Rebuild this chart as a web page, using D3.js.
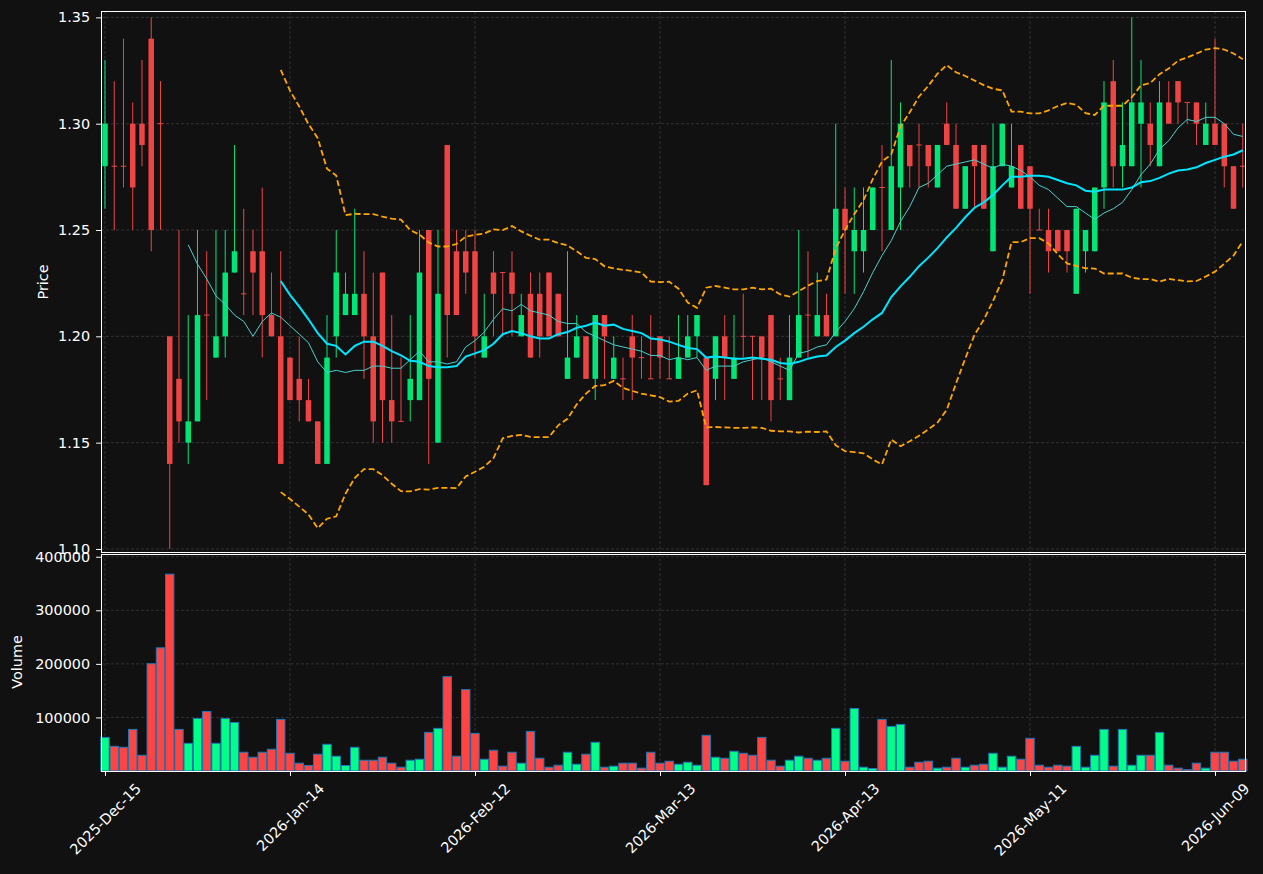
<!DOCTYPE html>
<html>
<head>
<meta charset="utf-8">
<script src="https://cdn.jsdelivr.net/npm/d3@7"></script>
<style>
  html, body { margin: 0; padding: 0; background: #111111; }
  svg { display: block; }
  text { font-family: "DejaVu Sans", sans-serif; }
</style>
</head>
<body>
<svg id="chart" width="1263" height="874"></svg>
<script>
// candle data, one value per trading bar
const opens = [
  1.28,1.28,1.28,1.30,1.30,1.34,1.30,1.20,1.18,1.15,1.16,1.21,1.19,1.20,1.23,1.22,1.24,1.24,1.21,1.20,
  1.19,1.18,1.17,1.16,1.14,1.20,1.21,1.21,1.22,1.20,1.23,1.17,1.16,1.17,1.17,1.25,1.15,1.29,1.24,1.24,
  1.24,1.19,1.23,1.23,1.23,1.20,1.22,1.22,1.23,1.22,1.18,1.19,1.20,1.18,1.21,1.18,1.18,1.20,1.19,1.18,
  1.20,1.18,1.18,1.19,1.20,1.19,1.18,1.20,1.18,1.20,1.20,1.20,1.21,1.18,1.17,1.19,1.21,1.20,1.21,1.20,
  1.26,1.24,1.24,1.25,1.27,1.25,1.27,1.29,1.29,1.29,1.27,1.30,1.29,1.26,1.29,1.29,1.24,1.28,1.27,1.29,
  1.28,1.25,1.25,1.25,1.25,1.22,1.24,1.24,1.27,1.32,1.28,1.28,1.30,1.30,1.28,1.31,1.32,1.31,1.31,1.29,
  1.30,1.30,1.28,1.28
];
const highs = [
  1.33,1.32,1.34,1.31,1.33,1.35,1.32,1.20,1.25,1.21,1.25,1.24,1.25,1.25,1.29,1.26,1.25,1.27,1.23,1.24,
  1.19,1.20,1.18,1.16,1.21,1.25,1.23,1.26,1.24,1.23,1.23,1.21,1.19,1.21,1.25,1.25,1.25,1.29,1.25,1.25,
  1.25,1.22,1.24,1.23,1.24,1.22,1.23,1.23,1.23,1.22,1.24,1.21,1.20,1.21,1.21,1.20,1.19,1.21,1.20,1.21,
  1.20,1.20,1.21,1.21,1.21,1.19,1.20,1.21,1.21,1.22,1.20,1.20,1.21,1.19,1.21,1.25,1.24,1.23,1.22,1.30,
  1.27,1.27,1.27,1.27,1.29,1.33,1.31,1.29,1.30,1.29,1.29,1.31,1.30,1.28,1.29,1.29,1.30,1.30,1.30,1.29,
  1.28,1.26,1.26,1.25,1.25,1.26,1.25,1.27,1.32,1.33,1.31,1.35,1.33,1.31,1.32,1.32,1.32,1.31,1.31,1.31,
  1.34,1.30,1.28,1.30
];
const lows = [
  1.26,1.25,1.27,1.25,1.28,1.24,1.25,1.10,1.15,1.14,1.16,1.17,1.19,1.19,1.23,1.21,1.21,1.19,1.20,1.14,
  1.17,1.16,1.16,1.14,1.14,1.19,1.21,1.21,1.18,1.15,1.15,1.15,1.16,1.16,1.17,1.14,1.15,1.19,1.21,1.22,
  1.19,1.19,1.20,1.20,1.20,1.20,1.19,1.19,1.20,1.20,1.18,1.19,1.18,1.17,1.18,1.18,1.17,1.17,1.18,1.18,
  1.18,1.18,1.18,1.19,1.19,1.13,1.17,1.17,1.18,1.19,1.17,1.17,1.16,1.17,1.17,1.19,1.19,1.20,1.20,1.20,
  1.22,1.22,1.23,1.25,1.24,1.25,1.25,1.27,1.27,1.27,1.27,1.29,1.26,1.26,1.26,1.26,1.24,1.28,1.27,1.26,
  1.22,1.25,1.23,1.24,1.23,1.22,1.23,1.24,1.26,1.27,1.27,1.28,1.27,1.28,1.28,1.30,1.30,1.30,1.29,1.29,
  1.29,1.27,1.26,1.27
];
const closes = [
  1.30,1.28,1.28,1.27,1.29,1.25,1.30,1.14,1.16,1.16,1.21,1.21,1.20,1.23,1.24,1.22,1.23,1.21,1.20,1.14,
  1.17,1.17,1.16,1.14,1.19,1.23,1.22,1.22,1.20,1.16,1.17,1.16,1.16,1.18,1.23,1.18,1.22,1.21,1.21,1.23,
  1.20,1.20,1.22,1.23,1.22,1.21,1.19,1.20,1.20,1.20,1.19,1.20,1.18,1.21,1.20,1.19,1.18,1.19,1.19,1.18,
  1.19,1.18,1.19,1.20,1.21,1.13,1.20,1.19,1.19,1.20,1.20,1.19,1.17,1.18,1.19,1.21,1.21,1.21,1.20,1.26,
  1.25,1.25,1.25,1.27,1.27,1.28,1.30,1.28,1.29,1.28,1.29,1.29,1.26,1.28,1.28,1.26,1.28,1.30,1.28,1.26,
  1.26,1.25,1.24,1.24,1.24,1.26,1.25,1.27,1.31,1.28,1.29,1.31,1.31,1.29,1.31,1.30,1.31,1.31,1.30,1.30,
  1.29,1.28,1.26,1.28
];
const volumes = [
  62800,46100,44300,77700,29400,200300,230000,367500,77700,51700,98100,111100,51700,98100,90700,35000,25700,35000,40600,96300,
  33100,14600,10200,31300,49800,27600,10200,44300,20100,20100,25700,14600,7100,20100,22000,72100,79600,176200,27600,152000,
  70300,22000,38700,9000,35000,14600,74000,23800,7100,10800,35000,12700,31300,53600,7100,9000,14600,14600,5300,35000,
  14600,18300,12700,16400,10800,66600,25700,23800,36800,33100,29400,62800,20100,9000,20100,27600,23800,20100,23800,79600,
  18300,116700,7100,4600,96300,83300,87000,7100,16400,18300,5300,7100,23800,7100,10800,12700,33100,7100,27600,22000,
  61000,10800,7100,10800,9000,46100,7100,29400,77700,9000,77700,10800,29400,29400,72100,10800,5300,2500,14600,5300,
  35000,35000,18300,22000
];

// x axis labels, placed every 20 bars
const tickIdx = [0, 20, 40, 60, 80, 100, 120];
const tickLabels = ["2025-Dec-15","2026-Jan-14","2026-Feb-12","2026-Mar-13","2026-Apr-13","2026-May-11","2026-Jun-09"];
const priceTicks = [1.10, 1.15, 1.20, 1.25, 1.30, 1.35];
const volumeTicks = [100000, 200000, 300000, 400000];

const n = closes.length;
const idx = d3.range(n);

// rolling mean / band helpers
function rolling(win, fn) {
  return idx.map(i => i < win - 1 ? null : fn(closes.slice(i - win + 1, i + 1)));
}
const ma10 = rolling(10, d3.mean);
const ma20 = rolling(20, d3.mean);
const sd20 = rolling(20, a => { const m = d3.mean(a); return Math.sqrt(d3.mean(a, v => (v - m) * (v - m))); });
const bbUp = idx.map(i => ma20[i] == null ? null : ma20[i] + 2 * sd20[i]);
const bbLo = idx.map(i => ma20[i] == null ? null : ma20[i] - 2 * sd20[i]);

const svg = d3.select("#chart");
svg.append("rect").attr("width", 1263).attr("height", 874).attr("fill", "#111111");

const L = 101, R = 1246, pTop = 11, pBot = 553, vBot = 771;
const x = d3.scaleLinear().domain([-0.43, 123.35]).range([L, R]);
const yP = d3.scaleLinear().domain([1.0981, 1.3530]).range([pBot, pTop]);
const yV = d3.scaleLinear().domain([0, 407000]).range([vBot, pBot]);

const up = "#00e676", down = "#ef4444";
const vUp = "#00ff88", vDown = "#ff4444";
const fs = "14.4px";

svg.append("defs").append("clipPath").attr("id", "clipP")
  .append("rect").attr("x", L).attr("y", pTop).attr("width", R - L).attr("height", pBot - pTop);

// grid
const grid = svg.append("g").attr("stroke", "#3a3a3a").attr("stroke-width", 0.8).attr("stroke-dasharray", "3,2");
grid.selectAll(".gp").data(priceTicks).join("line")
  .attr("x1", L).attr("x2", R).attr("y1", d => yP(d)).attr("y2", d => yP(d));
grid.selectAll(".gv").data(volumeTicks).join("line")
  .attr("x1", L).attr("x2", R).attr("y1", d => yV(d)).attr("y2", d => yV(d));
grid.selectAll(".gx1").data(tickIdx).join("line")
  .attr("x1", d => x(d)).attr("x2", d => x(d)).attr("y1", pTop).attr("y2", pBot);
grid.selectAll(".gx2").data(tickIdx).join("line")
  .attr("x1", d => x(d)).attr("x2", d => x(d)).attr("y1", pBot).attr("y2", vBot);

// candles
const candles = svg.append("g");
candles.selectAll("line").data(idx).join("line")
  .attr("x1", i => x(i)).attr("x2", i => x(i))
  .attr("y1", i => yP(highs[i])).attr("y2", i => yP(lows[i]))
  .attr("stroke", i => closes[i] > opens[i] ? up : down).attr("stroke-width", 1);
candles.selectAll("rect").data(idx).join("rect")
  .attr("x", i => x(i) - 2.75).attr("width", 5.5)
  .attr("y", i => Math.min(yP(opens[i]), yP(closes[i])) - (opens[i] === closes[i] ? 0.5 : 0))
  .attr("height", i => Math.max(1, Math.abs(yP(opens[i]) - yP(closes[i]))))
  .attr("fill", i => closes[i] > opens[i] ? up : down);

// indicator lines
const line = arr => d3.line().defined(i => arr[i] != null).x(i => x(i)).y(i => yP(arr[i]))(idx);
const lines = svg.append("g").attr("clip-path", "url(#clipP)").attr("fill", "none");
lines.append("path").attr("d", line(bbUp)).attr("stroke", "#ffa500").attr("stroke-width", 1.8).attr("stroke-dasharray", "6,3");
lines.append("path").attr("d", line(bbLo)).attr("stroke", "#ffa500").attr("stroke-width", 1.8).attr("stroke-dasharray", "6,3");
lines.append("path").attr("d", line(ma10)).attr("stroke", "#48d1cc").attr("stroke-width", 1);
lines.append("path").attr("d", line(ma20)).attr("stroke", "#00e5ff").attr("stroke-width", 2);

// volume
svg.append("g").selectAll("rect").data(idx).join("rect")
  .attr("x", i => x(i) - 4.2).attr("width", 8.4)
  .attr("y", i => yV(volumes[i])).attr("height", i => yV(0) - yV(volumes[i]))
  .attr("fill", i => closes[i] > opens[i] ? vUp : vDown)
  .attr("stroke", "#1f77b4").attr("stroke-width", 1);

// spines
const spines = svg.append("g").attr("fill", "none").attr("stroke", "#ffffff").attr("stroke-width", 1)
  .attr("shape-rendering", "crispEdges");
spines.append("rect").attr("x", L + 0.5).attr("y", pTop + 0.5).attr("width", R - L - 1).attr("height", pBot - pTop - 1);
spines.append("rect").attr("x", L + 0.5).attr("y", pBot + 1.5).attr("width", R - L - 1).attr("height", vBot - pBot - 1.5);

// axes
function styleAxis(g) {
  g.select(".domain").remove();
  g.selectAll(".tick line").attr("stroke", "#ffffff");
  g.selectAll(".tick text").attr("fill", "#ffffff").style("font-size", fs).style("font-family", "DejaVu Sans");
}
svg.append("g").attr("transform", `translate(${L},0)`)
  .call(d3.axisLeft(yP).tickValues(priceTicks).tickFormat(d3.format(".2f")).tickSize(4.9).tickPadding(6))
  .call(styleAxis);
svg.append("g").attr("transform", `translate(${L},0)`)
  .call(d3.axisLeft(yV).tickValues(volumeTicks).tickFormat(d3.format("d")).tickSize(4.9).tickPadding(6))
  .call(styleAxis);
const xg = svg.append("g").attr("transform", `translate(0,${vBot})`)
  .call(d3.axisBottom(x).tickValues(tickIdx).tickFormat((d, i) => tickLabels[i]).tickSize(4.9))
  .call(styleAxis);
xg.selectAll(".tick text")
  .attr("y", 0).attr("dy", null)
  .attr("text-anchor", "middle").attr("dominant-baseline", "central")
  .attr("transform", function () {
    const len = this.getComputedTextLength();
    const h = (len + 14.4) * Math.SQRT1_2 / 2;
    return `translate(0,${10 + h}) rotate(-45)`;
  });

// axis titles
svg.append("text").attr("transform", `translate(48,${(pTop + pBot) / 2}) rotate(-90)`)
  .attr("text-anchor", "middle").attr("fill", "#ffffff").style("font-size", fs).text("Price");
svg.append("text").attr("transform", `translate(22,${(pBot + vBot) / 2}) rotate(-90)`)
  .attr("text-anchor", "middle").attr("fill", "#ffffff").style("font-size", fs).text("Volume");
</script>
</body>
</html>
